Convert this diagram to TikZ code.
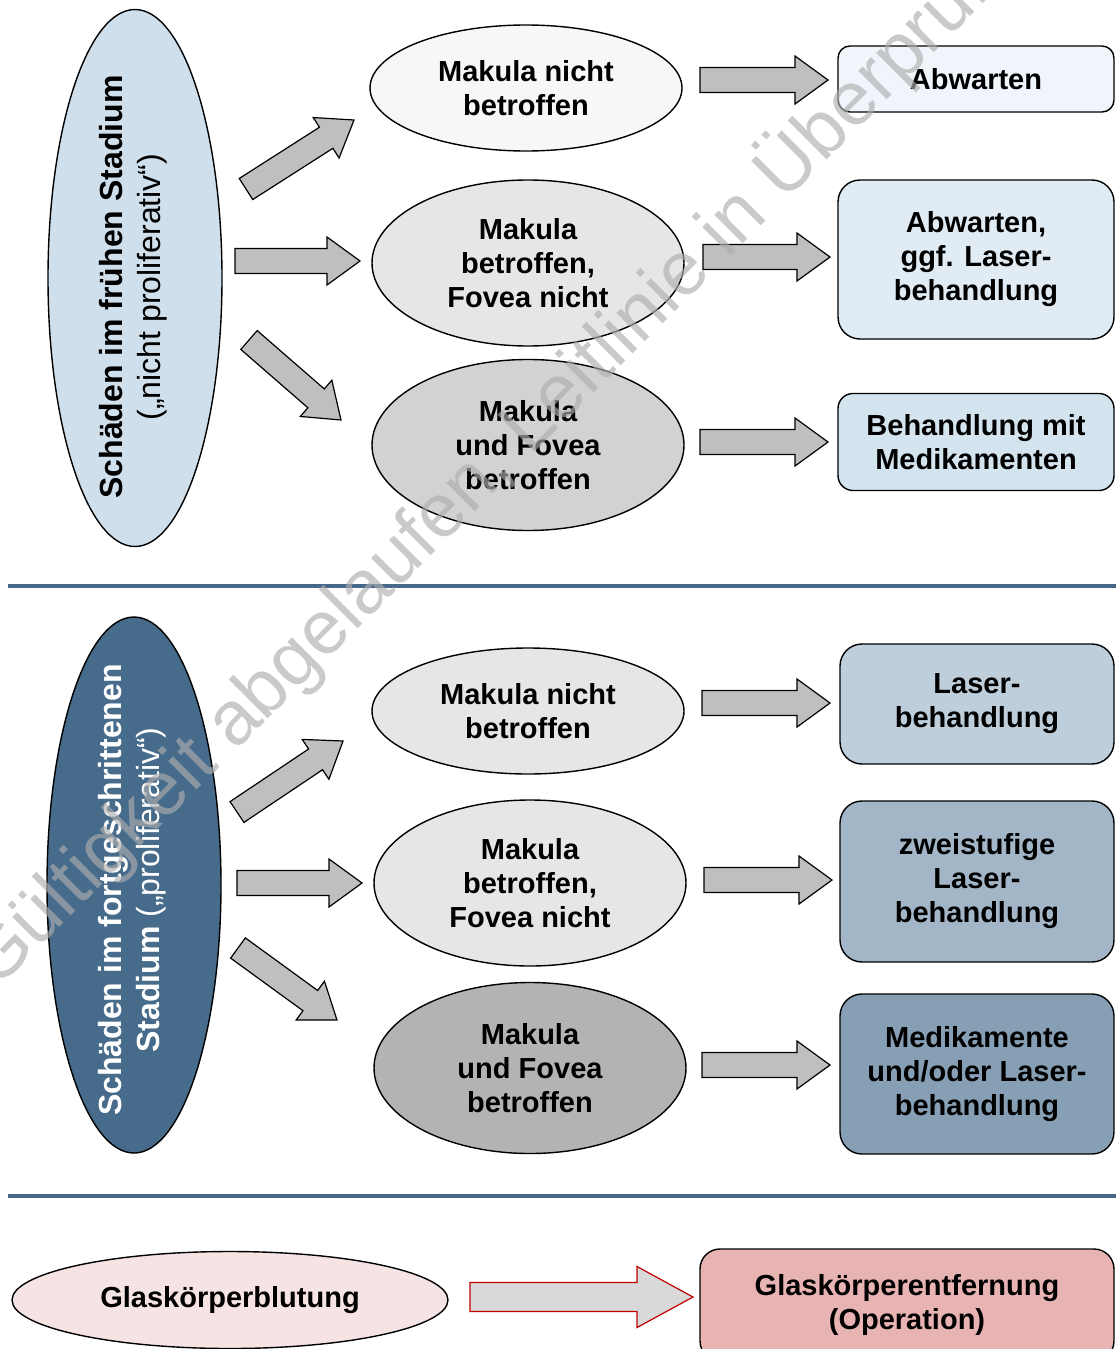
\documentclass[tikz,border=0pt]{standalone}
\usepackage{fontspec}
\setmainfont{Liberation Sans}
\usetikzlibrary{calc,shapes.geometric}
\definecolor{lone}{HTML}{CFE0EC}
\definecolor{ltwo}{HTML}{466B8B}
\definecolor{eone}{HTML}{F7F7F7}
\definecolor{etwo}{HTML}{E6E6E6}
\definecolor{ethree}{HTML}{D2D2D2}
\definecolor{esix}{HTML}{B3B3B3}
\definecolor{eseven}{HTML}{F6E3E4}
\definecolor{bone}{HTML}{EFF5FA}
\definecolor{btwo}{HTML}{E0EBF3}
\definecolor{bthree}{HTML}{D4E4EF}
\definecolor{bfour}{HTML}{BFCEDB}
\definecolor{bfive}{HTML}{A3B6C8}
\definecolor{bsix}{HTML}{879FB5}
\definecolor{bseven}{HTML}{E8B3B3}
\definecolor{arrfill}{HTML}{BFBFBF}
\definecolor{arrfillb}{HTML}{D9D9D9}
\definecolor{arrred}{HTML}{C00000}
\definecolor{sepcol}{HTML}{46698A}
\definecolor{wmcol}{HTML}{AEAEAE}
% #1 style, #2 start, #3 tip, #4 half shaft, #5 half head, #6 head length
\newcommand\fatarrow[6][]{%
  \coordinate (fab) at ($(#3)!#6!(#2)$);
  \draw[fatarr,#1] ($(#2)!#4!90:(#3)$) -- ($(fab)!#4!-90:(#2)$) -- ($(fab)!#5!-90:(#2)$) -- (#3)
    -- ($(fab)!#5!90:(#2)$) -- ($(fab)!#4!90:(#2)$) -- ($(#2)!#4!-90:(#3)$) -- cycle;
}
\begin{document}
\begin{tikzpicture}[x=1pt,y=-1pt,
  lbl/.style={font=\bfseries\fontsize{29}{34}\selectfont, align=center},
  ell/.style={draw=black, line width=1.4pt, ellipse, inner sep=0pt, lbl},
  box/.style={draw=black, line width=1.4pt, rectangle, inner sep=0pt, lbl},
  big/.style={draw=black, line width=1.4pt, ellipse, inner sep=0pt, minimum width=174pt, minimum height=537pt},
  bigtext/.style={rotate=90, align=center, font=\fontsize{32}{38}\selectfont},
  fatarr/.style={draw=black, line width=1.2pt, fill=arrfill, line join=miter},
  sep/.style={draw=sepcol, line width=4pt},
]
\clip (0,0) rectangle (1116,1349);
\fill[white] (0,0) rectangle (1116,1349);

% ---------- section 1
\node[big, fill=lone] (L1) at (135,278) {};
\node[bigtext] (L1t) at (133,287) {\textbf{Schäden im frühen Stadium}\\(„nicht proliferativ“)};

\node[ell, fill=eone, minimum width=312pt, minimum height=126pt] (E1) at (526,88) {Makula nicht\\betroffen};
\node[ell, fill=etwo, minimum width=312pt, minimum height=166pt] (E2) at (528,263) {Makula\\betroffen,\\Fovea nicht};
\node[ell, fill=ethree, minimum width=312pt, minimum height=171pt] (E3) at (528,445) {Makula\\und Fovea\\betroffen};

\node[box, fill=bone, rounded corners=12pt, minimum width=276pt, minimum height=66pt] (B1) at (976,79) {Abwarten};
\node[box, fill=btwo, rounded corners=22pt, minimum width=276pt, minimum height=159pt] (B2) at (976,259.5) {Abwarten,\\ggf. Laser-\\behandlung};
\node[box, fill=bthree, rounded corners=15pt, minimum width=276pt, minimum height=97pt] (B3) at (976,442) {Behandlung mit\\Medikamenten};

\coordinate (a1s) at (246,189); \coordinate (a1e) at (354,120);
\coordinate (a2s) at (235,261); \coordinate (a2e) at (360,261);
\coordinate (a3s) at (249,340); \coordinate (a3e) at (341,420);
\coordinate (r1s) at (700,80);  \coordinate (r1e) at (828,80);
\coordinate (r2s) at (703,257); \coordinate (r2e) at (830,257);
\coordinate (r3s) at (700,442); \coordinate (r3e) at (828,442);
\fatarrow{a1s}{a1e}{12.5pt}{24pt}{33pt}
\fatarrow{a2s}{a2e}{12.5pt}{24pt}{33pt}
\fatarrow{a3s}{a3e}{12.5pt}{24pt}{33pt}
\fatarrow{r1s}{r1e}{12.5pt}{24pt}{33pt}
\fatarrow{r2s}{r2e}{12.5pt}{24pt}{33pt}
\fatarrow{r3s}{r3e}{12.5pt}{24pt}{33pt}

\coordinate (s1a) at (8,586); \coordinate (s1b) at (1116,586);
\draw[sep] (s1a) -- (s1b);

% ---------- section 2
\node[big, fill=ltwo, minimum height=536pt] (L2) at (134,885) {};
\node[bigtext, text=white] (L2t) at (132,890) {\textbf{Schäden im fortgeschrittenen}\\\textbf{Stadium} („proliferativ“)};

\node[ell, fill=etwo, minimum width=312pt, minimum height=126pt] (E4) at (528,711) {Makula nicht\\betroffen};
\node[ell, fill=etwo, minimum width=312pt, minimum height=166pt] (E5) at (530,883) {Makula\\betroffen,\\Fovea nicht};
\node[ell, fill=esix, minimum width=312pt, minimum height=171pt] (E6) at (530,1068) {Makula\\und Fovea\\betroffen};

\node[box, fill=bfour, rounded corners=22pt, minimum width=274pt, minimum height=120pt] (B4) at (977,704) {Laser-\\behandlung};
\node[box, fill=bfive, rounded corners=22pt, minimum width=274pt, minimum height=161pt] (B5) at (977,881.5) {zweistufige\\Laser-\\behandlung};
\node[box, fill=bsix, rounded corners=22pt, minimum width=274pt, minimum height=160pt] (B6) at (977,1074) {Medikamente\\und/oder Laser-\\behandlung};

\coordinate (a4s) at (237,812); \coordinate (a4e) at (343,741);
\coordinate (a5s) at (237,883); \coordinate (a5e) at (362,883);
\coordinate (a6s) at (238,948); \coordinate (a6e) at (337,1020);
\coordinate (r4s) at (702,703); \coordinate (r4e) at (830,703);
\coordinate (r5s) at (704,880); \coordinate (r5e) at (832,880);
\coordinate (r6s) at (702,1065); \coordinate (r6e) at (830,1065);
\fatarrow{a4s}{a4e}{12.5pt}{24pt}{33pt}
\fatarrow{a5s}{a5e}{12.5pt}{24pt}{33pt}
\fatarrow{a6s}{a6e}{12.5pt}{24pt}{33pt}
\fatarrow{r4s}{r4e}{12.5pt}{24pt}{33pt}
\fatarrow{r5s}{r5e}{12.5pt}{24pt}{33pt}
\fatarrow{r6s}{r6e}{12.5pt}{24pt}{33pt}

\coordinate (s2a) at (8,1196); \coordinate (s2b) at (1116,1196);
\draw[sep] (s2a) -- (s2b);

% ---------- section 3
\node[ell, fill=eseven, minimum width=436pt, minimum height=97pt] (E7) at (230,1300) {Glaskörperblutung};
\node[box, fill=bseven, rounded corners=20pt, minimum width=414pt, minimum height=112pt] (B7) at (907,1305) {Glaskörperentfernung\\(Operation)};
\coordinate (r7s) at (470,1297); \coordinate (r7e) at (693,1297);
\fatarrow[draw=arrred, fill=arrfillb]{r7s}{r7e}{14.5pt}{30.5pt}{56pt}

% ---------- watermark
\node[rotate=45, anchor=base west, inner sep=0pt, text=wmcol, text opacity=0.65,
      font=\fontsize{76}{76}\selectfont] (wm) at (-4,991) {Gültigkeit abgelaufen, Leitlinie in Überprüfung};
\end{tikzpicture}
\end{document}
